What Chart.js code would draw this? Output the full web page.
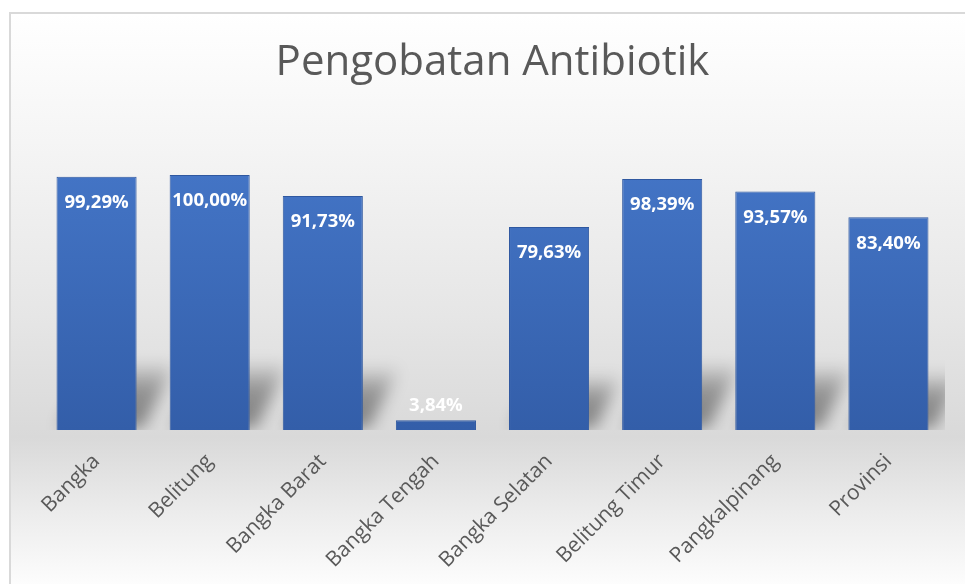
<!DOCTYPE html>
<html>
<head>
<meta charset="utf-8">
<script src="https://cdn.jsdelivr.net/npm/chart.js@4/dist/chart.umd.min.js"></script>
<style>
  html, body { margin: 0; padding: 0; width: 965px; height: 584px; overflow: hidden; background: #ffffff; }
  #panel {
    position: absolute; left: 9px; top: 12px; width: 970px; height: 580px;
    border-top: 2px solid #d9d9d9; border-left: 2px solid #d9d9d9;
    background: linear-gradient(to bottom, #ffffff 0%, #f5f5f5 22%, #e6e6e6 52%, #d9d9d9 73%, #ececec 86%, #ffffff 100%);
  }
  #wrap { position: absolute; left: 0; top: 0; width: 965px; height: 584px; }
</style>
</head>
<body>
<div id="panel"></div>
<div id="wrap"><canvas id="chart" width="965" height="584"></canvas></div>
<script>
// Antibiotic treatment coverage per region (percent)
const categories = ['Bangka', 'Belitung', 'Bangka Barat', 'Bangka Tengah', 'Bangka Selatan', 'Belitung Timur', 'Pangkalpinang', 'Provinsi'];
const values = [99.29, 100.00, 91.73, 3.84, 79.63, 98.39, 93.57, 83.40];
const chartTitle = 'Pengobatan Antibiotik';

const formatPct = v => v.toFixed(2).replace('.', ',') + '%';

// Soft perspective shadow cast behind each bar
const barShadow = {
  id: 'barShadow',
  beforeDatasetsDraw(chart) {
    const { ctx, chartArea } = chart;
    const meta = chart.getDatasetMeta(0);
    ctx.save();
    ctx.beginPath();
    ctx.rect(chartArea.left, chartArea.top, chartArea.right - chartArea.left, chartArea.bottom - chartArea.top);
    ctx.clip();
    ctx.filter = 'blur(8px)';
    meta.data.forEach(bar => {
      const p = bar.getProps(['x', 'y', 'base', 'width'], true);
      const left = p.x - p.width / 2, right = p.x + p.width / 2;
      const h = Math.min(66, (p.base - p.y) * 0.26);
      const dx = h * 0.55;
      const g = ctx.createLinearGradient(0, p.base, 0, p.base - h);
      g.addColorStop(0, 'rgba(0,0,0,0.42)');
      g.addColorStop(0.6, 'rgba(0,0,0,0.34)');
      g.addColorStop(1, 'rgba(0,0,0,0.06)');
      ctx.fillStyle = g;
      ctx.beginPath();
      ctx.moveTo(left + 4, p.base - 2);
      ctx.lineTo(right + 6, p.base - 2);
      ctx.lineTo(right + dx + 2, p.base - h);
      ctx.lineTo(left + dx, p.base - h);
      ctx.closePath();
      ctx.fill();
    });
    ctx.restore();
  }
};

// Value labels: inside the top of tall bars, above short ones
const valueLabels = {
  id: 'valueLabels',
  afterDatasetsDraw(chart) {
    const { ctx } = chart;
    const meta = chart.getDatasetMeta(0);
    ctx.save();
    ctx.font = 'bold 18.5px "Open Sans", sans-serif';
    ctx.fillStyle = '#ffffff';
    ctx.textAlign = 'center';
    ctx.textBaseline = 'middle';
    meta.data.forEach((bar, i) => {
      const p = bar.getProps(['x', 'y', 'base'], true);
      const inside = (p.base - p.y) > 40;
      const y = inside ? p.y + 26 : p.y - 14;
      ctx.fillText(formatPct(values[i]), p.x, y);
    });
    ctx.restore();
  }
};

new Chart(document.getElementById('chart'), {
  type: 'bar',
  data: {
    labels: categories,
    datasets: [{
      data: values,
      backgroundColor(context) {
        const area = context.chart.chartArea;
        if (!area) return '#3f6bbb';
        const g = context.chart.ctx.createLinearGradient(0, area.top, 0, area.bottom);
        g.addColorStop(0, '#4374c5');
        g.addColorStop(1, '#335ea9');
        return g;
      },
      borderColor: '#2f58a0',
      borderWidth: 1,
      categoryPercentage: 1,
      barPercentage: 0.708
    }]
  },
  options: {
    responsive: false,
    maintainAspectRatio: false,
    devicePixelRatio: 1,
    animation: false,
    layout: { padding: { left: 40, right: 20, top: 0, bottom: 0 } },
    plugins: {
      legend: { display: false },
      tooltip: { enabled: false },
      title: {
        display: true,
        text: chartTitle,
        color: '#595959',
        font: { family: '"Open Sans", sans-serif', size: 42, weight: '400' },
        padding: { top: 38, bottom: 86.6 }
      }
    },
    scales: {
      y: { display: false, min: 0, max: 100 },
      x: {
        grid: { display: false, drawTicks: false },
        border: { display: false },
        ticks: {
          autoSkip: false,
          minRotation: 45,
          maxRotation: 45,
          padding: 19,
          color: '#595959',
          font: { family: '"Open Sans", sans-serif', size: 21 }
        },
        afterFit(scale) {
          scale.height = 154;
          scale.paddingLeft = 0;
          scale.paddingRight = 0;
        }
      }
    }
  },
  plugins: [barShadow, valueLabels]
});
</script>
</body>
</html>
